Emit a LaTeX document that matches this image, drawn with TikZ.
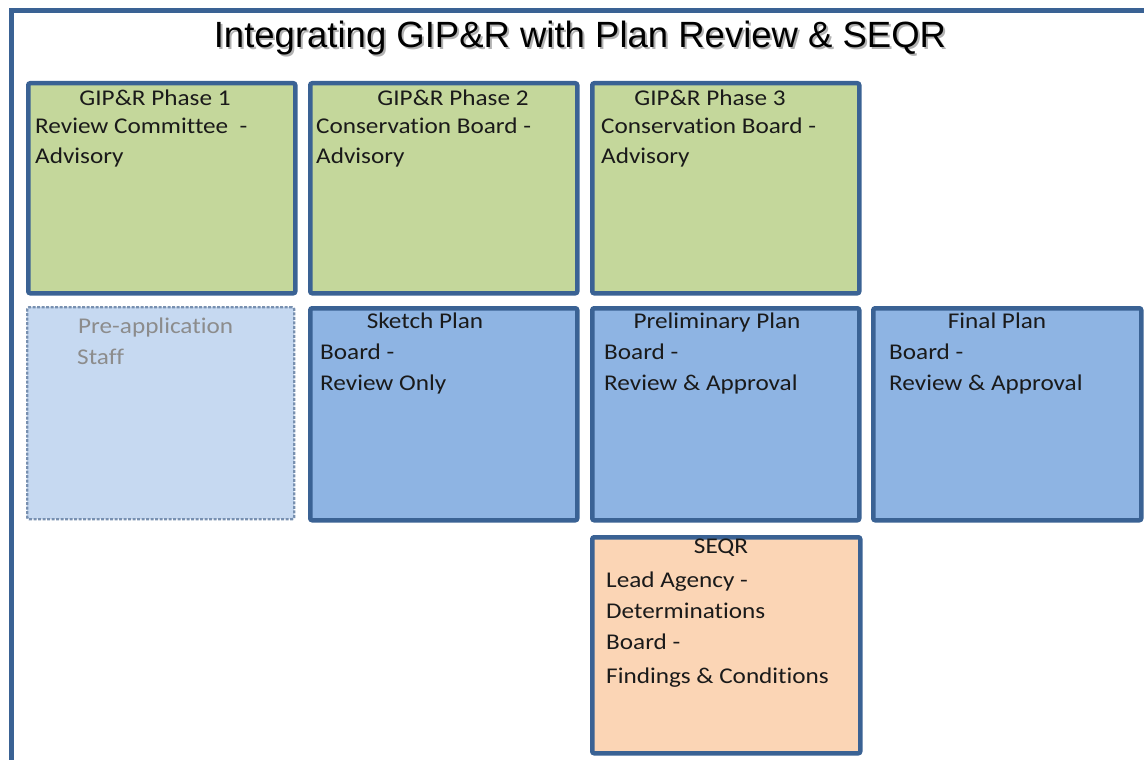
\documentclass[tikz,border=0pt]{standalone}
\usepackage{fontspec}
\setmainfont{Carlito}[FakeStretch=1.12, Ligatures={NoCommon}]
\newfontfamily\titlefont{Liberation Sans}
\definecolor{frameblue}{HTML}{3A6294}
\definecolor{phasegreen}{HTML}{C4D79B}
\definecolor{planblue}{HTML}{8EB4E3}
\definecolor{prefill}{HTML}{C6D9F1}
\definecolor{predash}{HTML}{7890B0}
\definecolor{pretext}{HTML}{8C8C8C}
\definecolor{seqrfill}{HTML}{FBD5B5}
\definecolor{bodytext}{HTML}{1A1A1A}
\tikzset{
  panel/.style={draw=frameblue, line width=4.5pt, rounded corners=2pt,
    anchor=north west, minimum width=267pt, minimum height=210pt, inner sep=0pt},
  prepanel/.style={draw=predash, line width=2.4pt, dashed, dash pattern=on 3pt off 1.5pt,
    rounded corners=2pt, anchor=north west, minimum width=267pt, minimum height=212pt, inner sep=0pt},
  txt/.style={anchor=base west, inner sep=0pt, font=\fontsize{22.5}{27}\selectfont, text=bodytext},
  head/.style={anchor=base, inner sep=0pt, font=\fontsize{22.5}{27}\selectfont, text=bodytext},
  titletext/.style={anchor=base, inner sep=0pt, font=\titlefont\fontsize{36.5}{42}\selectfont},
}
\begin{document}
\begin{tikzpicture}[x=1pt,y=-1pt]
\useasboundingbox (0,0) rectangle (1144,760);
% outer frame, running off the page to the right and below
\draw[frameblue, line width=5pt] (11.5,780) -- (11.5,11) -- (1160,11);
% title with its soft shadow
\node[titletext, text=gray!60] (titleshadow) at (582,49.5) {Integrating GIP\&R with Plan Review \& SEQR};
\node[titletext, text=black] (title) at (580,48) {Integrating GIP\&R with Plan Review \& SEQR};

% row 1: GIP&R phases
\node[panel, fill=phasegreen] (phase1) at (26,81) {};
\node[panel, fill=phasegreen] (phase2) at (308,81) {};
\node[panel, fill=phasegreen] (phase3) at (590,81) {};
% row 2: plan review stages
\node[prepanel, fill=prefill] (preapp) at (26,306) {};
\node[panel, fill=planblue, minimum height=212pt] (sketch) at (308,306) {};
\node[panel, fill=planblue, minimum height=212pt] (prelim) at (590,306) {};
\node[panel, fill=planblue, minimum height=212pt, minimum width=268pt] (final) at (871,306) {};
% row 3: SEQR
\node[panel, fill=seqrfill, minimum width=268pt, minimum height=216pt] (seqr) at (590,535) {};

% phase texts
\node[head] (p1h) at (155,106) {GIP\&R Phase 1};
\node[txt] (p1a) at (35,133) {Review Committee\ \ -};
\node[txt] (p1b) at (35,163) {Advisory};
\node[head] (p2h) at (453,106) {GIP\&R Phase 2};
\node[txt] (p2a) at (316,133) {Conservation Board -};
\node[txt] (p2b) at (316,163) {Advisory};
\node[head] (p3h) at (710,106) {GIP\&R Phase 3};
\node[txt] (p3a) at (601,133) {Conservation Board -};
\node[txt] (p3b) at (601,163) {Advisory};

% plan review texts
\node[txt, text=pretext] (prea) at (78,333) {Pre-application};
\node[txt, text=pretext] (preb) at (77,364) {Staff};
\node[head] (skh) at (425,328) {Sketch Plan};
\node[txt] (ska) at (320,359) {Board -};
\node[txt] (skb) at (320,390) {Review Only};
\node[head] (prh) at (717,328) {Preliminary Plan};
\node[txt] (pra) at (604,359) {Board -};
\node[txt] (prb) at (604,390) {Review \& Approval};
\node[head] (fih) at (997,328) {Final Plan};
\node[txt] (fia) at (889,359) {Board -};
\node[txt] (fib) at (889,390) {Review \& Approval};

% SEQR texts
\node[head] (sqh) at (721,553) {SEQR};
\node[txt] (sqa) at (606,587) {Lead Agency -};
\node[txt] (sqb) at (606,618) {Determinations};
\node[txt] (sqc) at (606,649) {Board -};
\node[txt] (sqd) at (606,683) {Findings \& Conditions};
\end{tikzpicture}
\end{document}
